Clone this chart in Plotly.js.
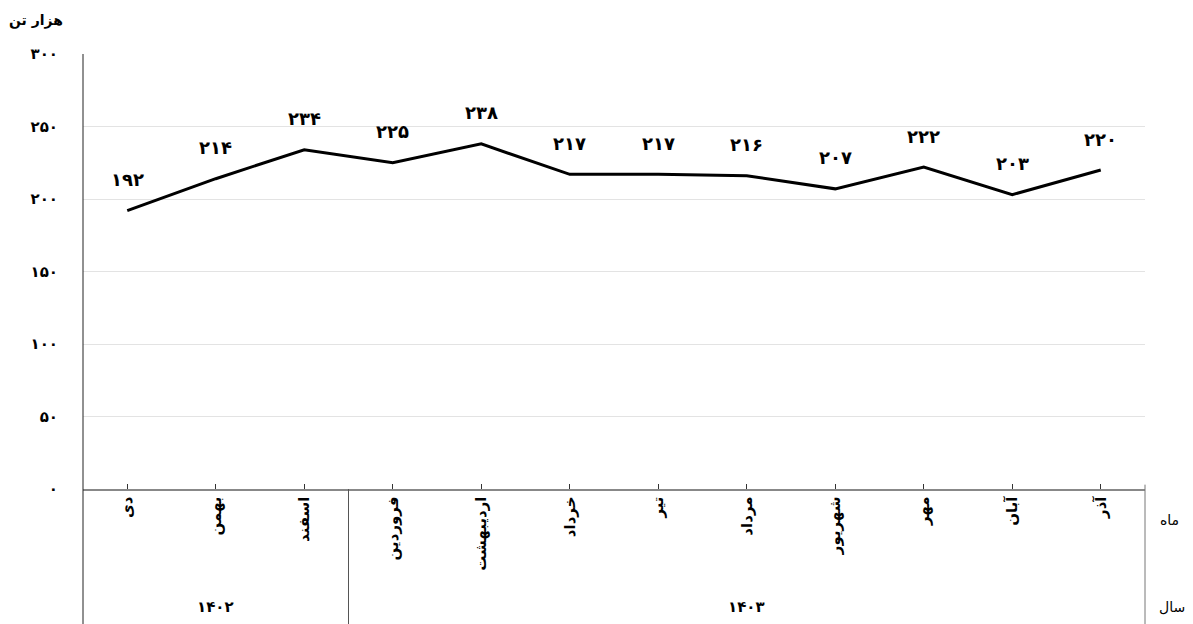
<!DOCTYPE html>
<html>
<head>
<meta charset="utf-8">
<script src="https://cdn.plot.ly/plotly-3.0.1.min.js"></script>
<style>html,body{margin:0;padding:0;background:#fff;}#chart{width:1193px;height:624px;}</style>
</head>
<body>
<div id="chart"></div>
<script>
const months = ["دی","بهمن","اسفند","فروردین","اردیبهشت","خرداد","تیر","مرداد","شهریور","مهر","آبان","آذر"];
const values = [192,214,234,225,238,217,217,216,207,222,203,220];
const years = ["۱۴۰۲","۱۴۰۳"];
const yearCounts = [3,9];
const yTicks = [0,50,100,150,200,250,300];
const yTitle = "هزار تن";
const rowMonth = "ماه";
const rowYear = "سال";

const fa = n => String(n).replace(/\d/g, d => "۰۱۲۳۴۵۶۷۸۹"[d]);
const FONT = "DejaVu Sans, sans-serif";

const annotations = values.map((v,i)=>({
  x: months[i], y: v, xref:'x', yref:'y', text: fa(v), showarrow:false,
  xanchor:'center', yanchor:'middle',
  yshift: 31, font:{family:FONT, size:18, color:'#000', weight:'bold'}
}));

const shapes = [];
let start = 0;
yearCounts.forEach((c,k)=>{
  const mid = start + Math.floor(c/2);
  annotations.push({x: months[mid], xref:'x', y:-0.271, yref:'paper', text: years[k], showarrow:false,
    xanchor:'center', yanchor:'middle', font:{family:FONT, size:15, color:'#000', weight:'bold'}});
  if (k>0) shapes.push({type:'line', xref:'x', yref:'paper', x0:start-0.5, x1:start-0.5, y0:0, y1:-0.32, line:{color:'#555', width:1}});
  start += c;
});
shapes.push({type:'line', xref:'paper', yref:'paper', x0:0, x1:0, y0:1, y1:-0.32, line:{color:'#222', width:1}});
shapes.push({type:'line', xref:'paper', yref:'paper', x0:1, x1:1, y0:0.01, y1:-0.32, line:{color:'#777', width:1}});

annotations.push({x:1.0235, xref:'paper', y:-0.071, yref:'paper', text:rowMonth, showarrow:false, xanchor:'center', yanchor:'middle', font:{family:FONT,size:14,color:'#000'}});
annotations.push({x:1.025, xref:'paper', y:-0.271, yref:'paper', text:rowYear, showarrow:false, xanchor:'center', yanchor:'middle', font:{family:FONT,size:14,color:'#000'}});
annotations.push({x:-0.044, xref:'paper', y:1.078, yref:'paper', text:yTitle, showarrow:false, xanchor:'center', yanchor:'middle', font:{family:FONT,size:14,color:'#000', weight:'bold'}});

const trace = {x: months, y: values, type:'scatter', mode:'lines', line:{color:'#000', width:3}, hoverinfo:'skip'};

const layout = {
  width:1193, height:624,
  margin:{l:83, r:48, t:54, b:135},
  paper_bgcolor:'#fff', plot_bgcolor:'#fff',
  showlegend:false,
  font:{family:FONT, color:'#000'},
  xaxis:{type:'category', tickangle:-90, ticks:'inside', ticklen:5, tickcolor:'#333',
    showline:true, linecolor:'#888', linewidth:1.5, showgrid:false, zeroline:false,
    tickfont:{family:FONT, size:15, color:'#000', weight:'bold'}, range:[-0.5, months.length-0.5]},
  yaxis:{range:[0,300], tickvals:yTicks, ticktext:yTicks.map(fa), showgrid:true, gridcolor:'#e3e3e3',
    zeroline:false, showline:false, ticks:'', ticklabelstandoff:24,
    tickfont:{family:FONT, size:15, color:'#000', weight:'bold'}},
  annotations, shapes
};
Plotly.newPlot('chart', [trace], layout, {staticPlot:true, displayModeBar:false});
</script>
</body>
</html>
